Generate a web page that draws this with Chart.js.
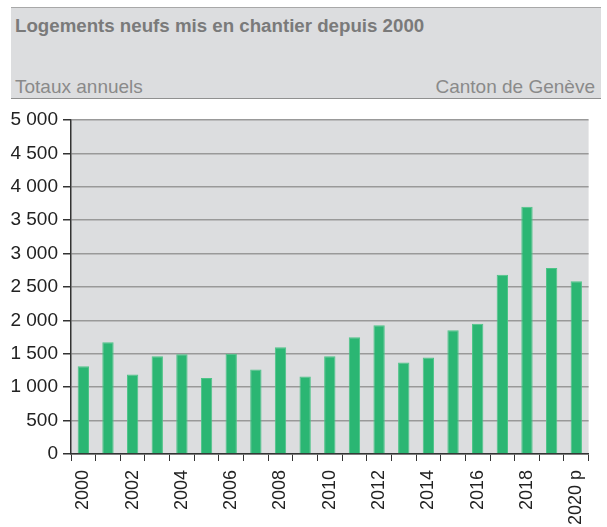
<!DOCTYPE html>
<html>
<head>
<meta charset="utf-8">
<script src="https://cdn.jsdelivr.net/npm/chart.js@4"></script>
<style>
  html, body { margin: 0; padding: 0; background: #fff; width: 607px; height: 527px; overflow: hidden; font-family: "Liberation Sans", Arial, sans-serif; }
  #header { position: absolute; left: 11px; top: 7px; width: 590px; height: 90px; background: #dcdddf; border-top: 1px solid #a8a8a8; border-bottom: 1px solid #909090; }
  #title { position: absolute; left: 4px; top: 7px; font-size: 18.7px; font-weight: bold; color: #7a7a7a; }
  #subl { position: absolute; left: 4px; top: 68px; font-size: 19px; color: #8a8a8a; }
  #subr { position: absolute; right: 6px; top: 68px; font-size: 19px; color: #8a8a8a; }
  #wrap { position: absolute; left: 0; top: 100px; width: 607px; height: 427px; }
</style>
</head>
<body>
<div id="header">
  <div id="title">Logements neufs mis en chantier depuis 2000</div>
  <div id="subl">Totaux annuels</div>
  <div id="subr">Canton de Genève</div>
</div>
<div id="wrap"><canvas id="c" width="607" height="427"></canvas></div>
<script>
const categories = ["2000","2001","2002","2003","2004","2005","2006","2007","2008","2009","2010","2011","2012","2013","2014","2015","2016","2017","2018","2019","2020 p"];
const logements = [1315, 1673, 1191, 1464, 1494, 1137, 1499, 1266, 1598, 1162, 1464, 1747, 1926, 1370, 1445, 1851, 1951, 2685, 3703, 2785, 2586];
const yTicks = [0, 500, 1000, 1500, 2000, 2500, 3000, 3500, 4000, 4500, 5000];

const plotBg = {
  id: 'plotBg',
  beforeDraw(chart) {
    const a = chart.chartArea, ctx = chart.ctx;
    ctx.save();
    ctx.fillStyle = '#dcdddf';
    ctx.fillRect(a.left, a.top, a.right - a.left, a.bottom - a.top);
    ctx.restore();
  }
};

const fmt = v => String(v).replace(/\B(?=(\d{3})+(?!\d))/g, ' ');

new Chart(document.getElementById('c'), {
  type: 'bar',
  data: {
    labels: categories,
    datasets: [{
      data: logements,
      backgroundColor: '#2bb673',
      borderColor: '#4cc487',
      borderWidth: 1,
      barPercentage: 0.46,
      categoryPercentage: 1.0
    }]
  },
  options: {
    responsive: false,
    animation: false,
    devicePixelRatio: 1,
    layout: { padding: { top: 20, right: 5, left: 0, bottom: 0 } },
    plugins: { legend: { display: false }, tooltip: { enabled: false }, title: { display: false } },
    scales: {
      x: {
        offset: true,
        grid: { drawOnChartArea: false, drawTicks: true, tickLength: 7, tickColor: '#333', offset: true },
        border: { color: '#333', width: 1.5 },
        ticks: {
          autoSkip: false, minRotation: 90, maxRotation: 90, padding: 9,
          color: '#222', font: { family: 'Liberation Sans', size: 18 },
          callback: function(v, i) { return i % 2 === 0 ? categories[i] : ''; }
        },
        afterFit(s) { s.height = 73; }
      },
      y: {
        min: 0, max: 5000,
        afterBuildTicks(s) { s.ticks = yTicks.map(v => ({ value: v })); },
        grid: { color: '#999', lineWidth: 1.5, drawTicks: true, tickLength: 8, tickColor: '#333' },
        border: { color: '#333', width: 1.5 },
        ticks: {
          padding: 5, color: '#222', font: { family: 'Liberation Sans', size: 19 },
          callback: v => fmt(v)
        },
        afterFit(s) { s.width = 71; }
      }
    }
  },
  plugins: [plotBg]
});
</script>
</body>
</html>
